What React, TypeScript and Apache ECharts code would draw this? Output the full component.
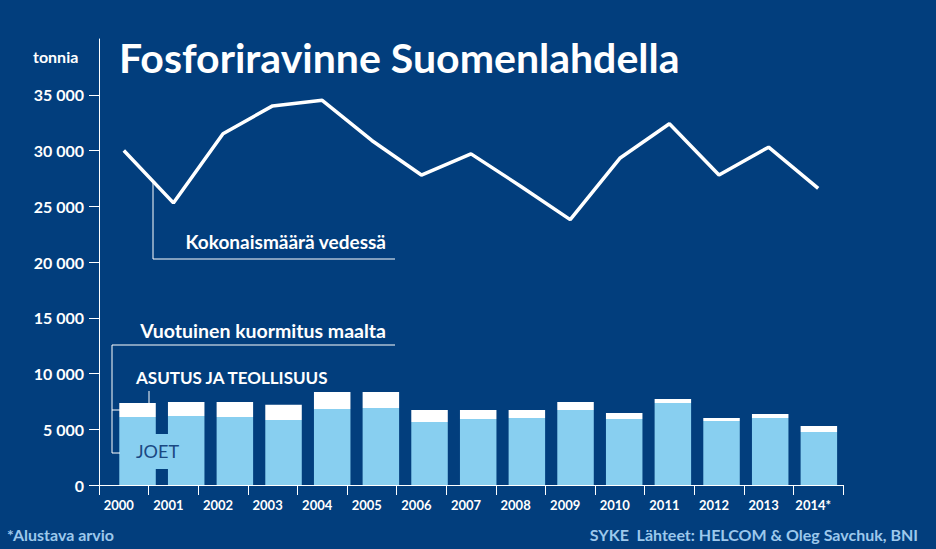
import React, { useEffect, useRef } from "react";
import * as echarts from "echarts";

const years = ["2000", "2001", "2002", "2003", "2004", "2005", "2006", "2007", "2008", "2009", "2010", "2011", "2012", "2013", "2014*"];
const totalInWater = [30000, 25300, 31500, 34000, 34500, 30900, 27800, 29700, 26800, 23800, 29300, 32400, 27800, 30300, 26600];
const rivers = [6100, 6180, 6090, 5820, 6810, 6900, 5650, 5910, 6000, 6720, 5910, 7350, 5740, 6000, 4750];
const settlementIndustry = [1250, 1260, 1350, 1380, 1520, 1430, 1070, 810, 720, 720, 540, 360, 270, 360, 540];
const yTicks = [0, 5000, 10000, 15000, 20000, 25000, 30000, 35000];

const BG = "#023e7d";
const LIGHT = "#88cff0";
const FOOT = "#9cc8ec";
const FONT = "Lato, 'Open Sans', sans-serif";

function fmt(v: number): string {
  if (v >= 40000) return "";
  const s = String(v);
  return s.length > 3 ? s.slice(0, s.length - 3) + " " + s.slice(-3) : s;
}

export default function App() {
  const ref = useRef<HTMLDivElement>(null);
  useEffect(() => {
    if (!ref.current) return;
    const chart = echarts.init(ref.current, undefined, { renderer: "svg" });
    const txt = (x: number, y: number, text: string, size: number, opts: any = {}) => ({
      type: "text",
      x,
      y,
      z: 100,
      style: {
        text,
        fill: opts.fill || "#ffffff",
        font: `${opts.weight || "bold"} ${size}px ${FONT}`,
        textAlign: opts.align || "left",
        textVerticalAlign: "middle",
      },
    });
    const line = (points: number[][]) => ({
      type: "polyline",
      z: 100,
      shape: { points },
      style: { stroke: "#ffffff", lineWidth: 1, fill: null },
    });
    chart.setOption({
      animation: false,
      backgroundColor: BG,
      grid: [
        { left: 99, top: 39, width: 744, height: 446, outerBoundsMode: "none" },
        { left: 113.2, top: 39, width: 730, height: 446, outerBoundsMode: "none" },
      ],
      xAxis: [
        {
          type: "category",
          gridIndex: 0,
          data: years,
          boundaryGap: true,
          axisLine: { show: true, lineStyle: { color: "#ffffff", width: 1 } },
          axisTick: { show: true, length: 10, lineStyle: { color: "#ffffff", width: 1 } },
          axisLabel: {
            color: "#ffffff",
            fontSize: 13,
            fontWeight: "bold",
            fontFamily: FONT,
            margin: 13,
            padding: [0, 10, 0, 0],
            interval: 0,
          },
          splitLine: { show: false },
        },
        { type: "category", gridIndex: 1, data: years, show: false },
      ],
      yAxis: [
        {
          type: "value",
          gridIndex: 0,
          min: 0,
          max: 40000,
          interval: 5000,
          axisLine: { show: true, lineStyle: { color: "#ffffff", width: 1 } },
          axisTick: { show: true, length: 10, customValues: yTicks, lineStyle: { color: "#ffffff", width: 1 } },
          axisLabel: {
            color: "#ffffff",
            fontSize: 16,
            fontWeight: "bold",
            fontFamily: FONT,
            margin: 15,
            formatter: (v: number) => fmt(v),
          },
          splitLine: { show: false },
        },
        { type: "value", gridIndex: 1, min: 0, max: 40000, interval: 5000, show: false, splitLine: { show: false } },
      ],
      series: [
        {
          name: "JOET",
          type: "bar",
          xAxisIndex: 1,
          yAxisIndex: 1,
          stack: "load",
          barWidth: 36.5,
          itemStyle: { color: LIGHT },
          data: rivers,
        },
        {
          name: "ASUTUS JA TEOLLISUUS",
          type: "bar",
          xAxisIndex: 1,
          yAxisIndex: 1,
          stack: "load",
          barWidth: 36.5,
          itemStyle: { color: "#ffffff" },
          data: settlementIndustry,
        },
        {
          name: "Kokonaismäärä vedessä",
          type: "line",
          xAxisIndex: 0,
          yAxisIndex: 0,
          symbol: "none",
          showSymbol: false,
          lineStyle: { color: "#ffffff", width: 3.5 },
          z: 5,
          data: totalInWater,
        },
      ],
      graphic: [
        txt(119, 57, "Fosforiravinne Suomenlahdella", 41),
        txt(33, 56, "tonnia", 16),
        line([[153, 182], [153, 259], [395, 259]]),
        txt(386, 241, "Kokonaismäärä vedessä", 19, { align: "right" }),
        txt(386, 330, "Vuotuinen kuormitus maalta", 19.5, { align: "right" }),
        line([[395, 345], [112, 345], [112, 453], [120, 453]]),
        line([[112, 410], [120, 410]]),
        txt(136, 377, "ASUTUS JA TEOLLISUUS", 17),
        line([[149, 391], [149, 403]]),
        {
          type: "rect",
          z: 90,
          shape: { x: 154, y: 434, width: 15, height: 35 },
          style: { fill: LIGHT },
        },
        txt(136, 451, "JOET", 18, { fill: "#1a4882", weight: "normal" }),
        txt(7, 534, "*Alustava arvio", 16, { fill: FOOT }),
        txt(918, 534, "SYKE  Lähteet: HELCOM & Oleg Savchuk, BNI", 16, { fill: FOOT, align: "right" }),
      ],
    });
    return () => chart.dispose();
  }, []);
  return <div ref={ref} style={{ position: "fixed", left: 0, top: 0, width: 936, height: 549 }} />;
}
